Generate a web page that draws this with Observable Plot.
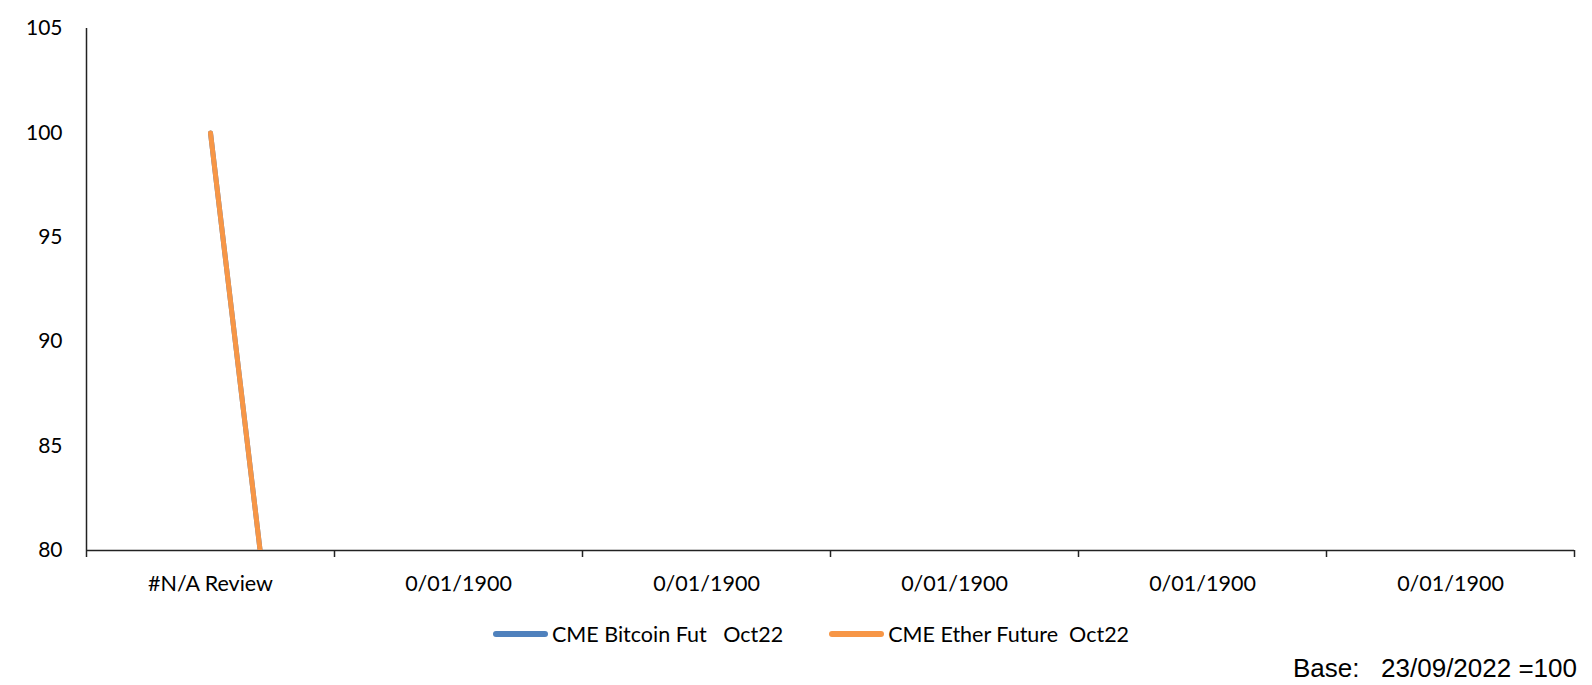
<!DOCTYPE html>
<html>
<head>
<meta charset="utf-8">
<script src="https://cdn.jsdelivr.net/npm/d3@7"></script>
<script src="https://cdn.jsdelivr.net/npm/@observablehq/plot@0.6"></script>
<style>
  html, body { margin: 0; padding: 0; background: #fff; }
  #wrap { position: relative; width: 1592px; height: 685px; font-family: Lato, "Noto Sans", sans-serif; }
  #legend { position: absolute; left: 493px; top: 622px; display: flex; align-items: center; font-size: 21.5px; line-height: 24px; color: #000; white-space: pre; }
  .item { display: flex; align-items: center; margin-right: 46px; }
  .swatch { width: 55px; height: 6px; border-radius: 3px; margin-right: 4px; }
  #caption { position: absolute; right: 15px; top: 655px; font-family: "Liberation Sans", Arial, sans-serif; font-size: 26px; line-height: 26px; color: #000; white-space: pre; }
</style>
</head>
<body>
<div id="wrap">
  <div id="chart"></div>
  <div id="legend"></div>
  <div id="caption"></div>
</div>
<script>
const categories = ["#N/A Review", "0/01/1900", "0/01/1900", "0/01/1900", "0/01/1900", "0/01/1900"];
const bitcoinValues = [100, 0, 0, 0, 0, 0];
const etherValues = [100, 0, 0, 0, 0, 0];
const seriesNames = ["CME Bitcoin Fut   Oct22", "CME Ether Future  Oct22"];
const seriesColors = ["#4f81bd", "#f79646"];
const yTicks = [80, 85, 90, 95, 100, 105];
const captionText = "Base:   23/09/2022 =100";

const rows = [];
[bitcoinValues, etherValues].forEach((vals, s) => {
  vals.forEach((v, i) => rows.push({series: seriesNames[s], idx: i + 0.5, value: v}));
});

const boundaries = d3.range(categories.length + 1);
const centers = categories.map((_, i) => i + 0.5);

const chart = Plot.plot({
  width: 1592,
  height: 600,
  marginTop: 28,
  marginBottom: 50,
  marginLeft: 86,
  marginRight: 18,
  style: {fontFamily: "Lato, 'Noto Sans', sans-serif", fontSize: "21px", color: "#000", background: "#fff"},
  x: {type: "linear", domain: [0, categories.length]},
  y: {domain: [80, 105]},
  color: {domain: seriesNames, range: seriesColors},
  marks: [
    Plot.axisY({ticks: yTicks, tickSize: 0, tickPadding: 24, label: null, fontSize: 21}),
    Plot.axisX({ticks: boundaries, tickSize: 7, tickFormat: () => "", label: null, stroke: "#222", strokeWidth: 1.5}),
    Plot.axisX({ticks: centers, tickSize: 0, tickPadding: 25, tickFormat: (d) => categories[Math.floor(d)], label: null, fontSize: 21.5}),
    Plot.ruleY([80], {stroke: "#222", strokeWidth: 1.5}),
    Plot.ruleX([0], {stroke: "#222", strokeWidth: 1.5}),
    Plot.line(rows, {x: "idx", y: "value", z: "series", stroke: "series", strokeWidth: 5, strokeLinecap: "round", strokeLinejoin: "round", clip: true})
  ]
});
document.getElementById("chart").appendChild(chart);

const legend = document.getElementById("legend");
seriesNames.forEach((name, i) => {
  const item = document.createElement("div");
  item.className = "item";
  const sw = document.createElement("div");
  sw.className = "swatch";
  sw.style.background = seriesColors[i];
  const lab = document.createElement("span");
  lab.textContent = name;
  item.appendChild(sw);
  item.appendChild(lab);
  legend.appendChild(item);
});
document.getElementById("caption").textContent = captionText;
</script>
</body>
</html>
